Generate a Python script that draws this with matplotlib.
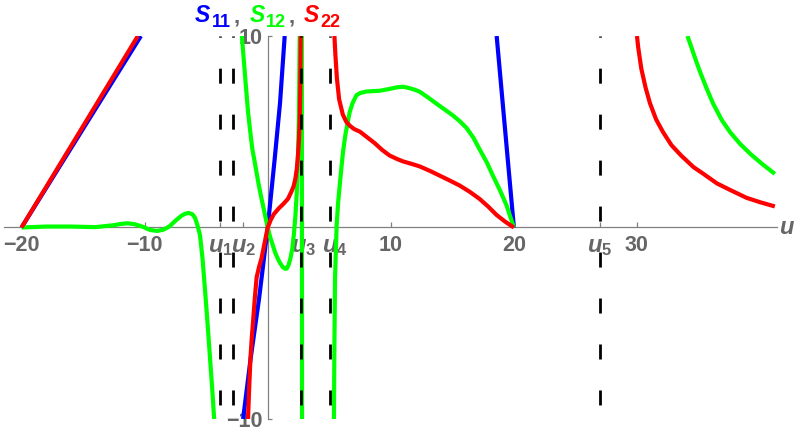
import matplotlib
matplotlib.use('Agg')
import matplotlib.pyplot as plt
import matplotlib.transforms as mtransforms

plt.rcParams['font.family'] = ['Liberation Sans', 'DejaVu Sans']
plt.rcParams['mathtext.fontset'] = 'custom'
plt.rcParams['mathtext.it'] = 'Liberation Sans:italic:bold'
plt.rcParams['mathtext.rm'] = 'Liberation Sans:bold'
plt.rcParams['mathtext.bf'] = 'Liberation Sans:bold'
plt.rcParams['lines.scale_dashes'] = False

# ---------------- data ----------------
# S11 (blue)
s11_a_u = [-20, -10.3]
s11_a_v = [0, 10]
s11_b_u = [-2.0, -1.4, -0.7, 0, 0.57, 1.0, 1.38]
s11_b_v = [-10, -6.9, -3.7, 0, 3.6, 6.5, 10]
s11_c_u = [18.6, 20]
s11_c_v = [10, 0]

# S12 (green)
s12_a_u = [-20, -18, -16, -14, -12.5, -12.0, -11.4, -10.8, -10.2, -9.6, -9.0, -8.5,
           -8.0, -7.5, -7.0, -6.7, -6.4, -6.1, -5.9, -5.7, -5.5, -5.3, -5.1, -4.9,
           -4.7, -4.5, -4.35]
s12_a_v = [0, 0.05, 0.05, 0.02, 0.12, 0.18, 0.22, 0.17, 0.05, -0.12, -0.18, -0.12,
           0.05, 0.35, 0.62, 0.72, 0.76, 0.68, 0.5, 0.1, -0.4, -1.6, -3.2, -4.9,
           -6.7, -8.5, -10]
s12_b_u = [-2.1, -1.95, -1.8, -1.6, -1.4, -1.25, -1.05, -0.75, -0.5, -0.25, 0,
           0.2, 0.4, 0.6, 0.8, 1.0, 1.2, 1.4, 1.54, 1.7, 1.85, 2.0, 2.12, 2.25,
           2.35, 2.42, 2.48, 2.52, 2.56, 2.6]
s12_b_v = [10, 8.8, 7.6, 6.05, 4.9, 4.1, 3.4, 2.3, 1.5, 0.75, 0,
           -0.5, -0.9, -1.3, -1.6, -1.85, -2.05, -2.15, -2.15, -1.95, -1.6, -1.1,
           -0.4, 0.6, 1.7, 2.8, 4.1, 5.5, 7.5, 10]
s12_c_u = [2.77, 2.78, 2.79]
s12_c_v = [10, 0, -10]
s12_d_u = [5.38, 5.42, 5.47, 5.6, 5.72, 5.85, 6.0, 6.12, 6.3, 6.5, 6.67, 6.9,
           7.2, 7.5, 8.0, 8.5, 9.1, 10.0, 10.5, 11.0, 11.5, 12.0, 12.35, 13.0,
           13.7, 14.4, 15.05, 15.6, 16.15, 16.7, 17.2, 17.8, 18.3, 18.9, 19.4, 20.0]
s12_d_v = [-10, -6, -2.65, 0.1, 1.3, 2.2, 3.2, 3.95, 4.8, 5.5, 6.05, 6.5,
           6.9, 7.02, 7.1, 7.12, 7.14, 7.25, 7.32, 7.35, 7.28, 7.18, 7.09, 6.8,
           6.47, 6.15, 5.85, 5.55, 5.2, 4.7, 4.1, 3.4, 2.7, 1.9, 1.16, 0]
s12_e_u = [34.1, 34.4, 34.8, 35.2, 35.7, 36.2, 36.9, 37.6, 38.4, 39.2, 40.2, 41.2]
s12_e_v = [10, 9.45, 8.7, 8.0, 7.2, 6.45, 5.6, 4.95, 4.35, 3.85, 3.3, 2.8]

# S22 (red)
s22_a_u = [-20, -10.55]
s22_a_v = [0, 10]
s22_b_u = [-1.6, -1.5, -1.4, -1.3, -1.2, -1.05, -0.9, -0.7, -0.5, -0.25, 0,
           0.25, 0.5, 0.9, 1.3, 1.65, 1.93, 2.1, 2.25, 2.37, 2.46, 2.54, 2.6,
           2.64, 2.68]
s22_b_v = [-10, -8.3, -6.8, -5.8, -5.0, -3.7, -2.6, -2.05, -1.6, -0.8, 0,
           0.4, 0.7, 1.0, 1.25, 1.5, 1.88, 2.15, 2.55, 3.1, 3.8, 4.6, 5.6,
           7.0, 10]
s22_c_u = [5.42, 5.5, 5.62, 5.8, 6.1, 6.4, 6.7, 7.0, 7.5, 8.0, 8.7, 9.3, 9.9,
           10.5, 11.0, 11.7, 12.35, 13.2, 14.0, 14.8, 15.6, 16.4, 17.2, 17.9,
           18.6, 19.3, 20.0]
s22_c_v = [10, 9.0, 7.8, 6.7, 5.9, 5.5, 5.3, 5.15, 5.0, 4.75, 4.4, 4.05, 3.76,
           3.58, 3.45, 3.32, 3.19, 2.95, 2.7, 2.45, 2.19, 1.87, 1.5, 1.1,
           0.65, 0.3, 0]
s22_d_u = [30.0, 30.1, 30.35, 30.7, 31.05, 31.55, 32.1, 32.8, 33.6, 34.6, 35.4,
           36.5, 37.6, 38.9, 40.0, 41.2]
s22_d_v = [10, 9.4, 8.3, 7.3, 6.5, 5.65, 5.0, 4.3, 3.75, 3.15, 2.8,
           2.3, 1.95, 1.55, 1.32, 1.1]

# dashed reference lines
dash_u = [-3.84, -2.84, 2.70, 5.09, 27.0]

# x ticks
xtick_pos = [-20, -10, 10, 20, 30, -3.84, -2.0, 2.88, 5.48, 27.0]
xtick_lab = ['\u221220', '\u221210', '10', '20', '30',
             '$u_1$', '$u_2$', '$u_3$', '$u_4$', '$u_5$']
ytick_pos = [-10, 10]
ytick_lab = ['\u221210', '10']

BLUE = '#0000ff'
GREEN = '#00ff00'
RED = '#ff0000'
GRAY = '#666666'
AXC = '#808080'

# ---------------- figure ----------------
W, H = 800, 436
fig = plt.figure(figsize=(W / 100, H / 100), dpi=100)
ax = fig.add_axes([4.3 / W, 17 / H, 773 / W, 383 / H])
ax.set_xlim(-21.4, 41.4)
ax.set_ylim(-10, 10)
ax.patch.set_alpha(0)

lw = 3.0
kw = dict(lw=lw, solid_capstyle='butt', solid_joinstyle='round')
for uu, vv in [(s11_a_u, s11_a_v), (s11_b_u, s11_b_v), (s11_c_u, s11_c_v)]:
    ax.plot(uu, vv, color=BLUE, zorder=3, **kw)
for uu, vv in [(s12_a_u, s12_a_v), (s12_b_u, s12_b_v), (s12_c_u, s12_c_v),
               (s12_d_u, s12_d_v), (s12_e_u, s12_e_v)]:
    ax.plot(uu, vv, color=GREEN, zorder=4, **kw)
for uu, vv in [(s22_a_u, s22_a_v), (s22_b_u, s22_b_v), (s22_c_u, s22_c_v),
               (s22_d_u, s22_d_v)]:
    ax.plot(uu, vv, color=RED, zorder=5, **kw)

for u in dash_u:
    ax.plot([u, u], [-10, 10], color='black', lw=2.0,
            linestyle=(23.0, (10.8, 22.3)), zorder=6)

# axes styling (Mathematica-like)
for s in ['top', 'right']:
    ax.spines[s].set_visible(False)
ax.spines['left'].set_position(('data', 0))
ax.spines['bottom'].set_position(('data', 0))
ax.spines['left'].set_bounds(-10, 10)
for s in ['left', 'bottom']:
    ax.spines[s].set_color(AXC)
    ax.spines[s].set_linewidth(0.9)
    ax.spines[s].set_zorder(1)

ax.set_xticks(xtick_pos)
ax.set_xticklabels(xtick_lab)
ax.set_yticks(ytick_pos)
ax.set_yticklabels(ytick_lab)
ax.tick_params(axis='x', direction='in', length=3.5, width=0.9, color=AXC,
               labelsize=15.5, labelcolor=GRAY, pad=5.5)
ax.tick_params(axis='y', direction='in', length=3, width=0.9, color=AXC,
               labelsize=15.5, labelcolor=GRAY, pad=4)
for lab in ax.get_xticklabels() + ax.get_yticklabels():
    lab.set_fontweight('bold')
for lab in ax.get_xticklabels()[5:]:
    lab.set_fontsize(17)

# axis label "u"
trans = mtransforms.blended_transform_factory(ax.transAxes, ax.transData)
ax.text(1.0 + 2 / 773, 0, '$u$', transform=trans, ha='left', va='center',
        fontsize=17, color=GRAY, clip_on=False)

# title row: S11, S12, S22  centred over the vertical axis
pieces = [('S', BLUE, 16.5, 0, True, 1), ('11', BLUE, 13, -5, False, 3),
          (',', GRAY, 16, 0, False, 10),
          ('S', GREEN, 16.5, 0, True, 1), ('12', GREEN, 13, -5, False, 3),
          (',', GRAY, 16, 0, False, 9),
          ('S', RED, 16.5, 0, True, 1), ('22', RED, 13, -5, False, 0)]
ident = mtransforms.IdentityTransform()
texts = []
for txt, col, size, dy, ital, gap in pieces:
    t = fig.text(0, 0, txt, color=col, fontsize=size, fontweight='bold',
                 fontstyle='italic' if ital else 'normal', transform=ident,
                 ha='left', va='baseline')
    texts.append((t, dy, gap))
fig.canvas.draw()
r = fig.canvas.get_renderer()
widths = [t.get_window_extent(r).width for t, _, _ in texts]
total = sum(widths) + sum(g for _, _, g in texts)
x0_disp = ax.transData.transform((0, 0))[0]
x = x0_disp - total / 2
base = H - 22
for (t, dy, gap), w in zip(texts, widths):
    t.set_position((x, base + dy))
    x += w + gap

fig.savefig('out.png', dpi=100)
